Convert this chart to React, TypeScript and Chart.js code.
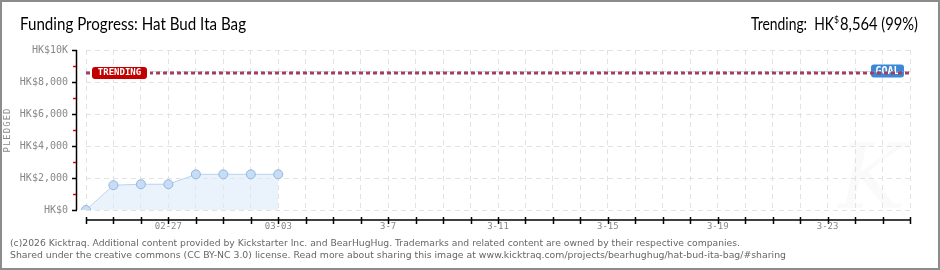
import React, { useEffect, useRef } from "react";
import { Chart, registerables } from "chart.js";
Chart.register(...registerables);

const categories = [
  "02-24", "02-25", "02-26", "02-27", "02-28",
  "03-01", "03-02", "03-03", "03-04", "03-05", "03-06", "03-07", "03-08", "03-09", "03-10",
  "03-11", "03-12", "03-13", "03-14", "03-15", "03-16", "03-17", "03-18", "03-19", "03-20",
  "03-21", "03-22", "03-23", "03-24", "03-25", "03-26",
];
const pledged = [0, 1550, 1610, 1610, 2230, 2230, 2230, 2230];
const xLabelDates = ["02-27", "03-03", "03-07", "03-11", "03-15", "03-19", "03-23"];
const xLabelTexts = ["02-27", "03-03", "3-7", "3-11", "3-15", "3-19", "3-23"];
const yTickValues = [0, 2000, 4000, 6000, 8000, 10000];
const yTickLabels = ["HK$0", "HK$2,000", "HK$4,000", "HK$6,000", "HK$8,000", "HK$10K"];
const yMinorValues = [1000, 3000, 5000, 7000, 9000];
const trendingValue = 8564;
const goalValue = 8650;
const titleText = "Funding Progress: Hat Bud Ita Bag";
const footer1 = "(c)2026 Kicktraq. Additional content provided by Kickstarter Inc. and BearHugHug. Trademarks and related content are owned by their respective companies.";
const footer2 = "Shared under the creative commons (CC BY-NC 3.0) license. Read more about sharing this image at www.kicktraq.com/projects/bearhughug/hat-bud-ita-bag/#sharing";

function fitText(ctx: CanvasRenderingContext2D, text: string, x: number, y: number, w: number) {
  const m = ctx.measureText(text).width;
  ctx.save();
  ctx.translate(x, y);
  ctx.scale(w / m, 1);
  ctx.textAlign = "left";
  ctx.fillText(text, 0, 0);
  ctx.restore();
}

const PIX = '"DejaVu Sans Mono", monospace';
const TITLEFONT = '400 17px Lato, "DejaVu Sans"';

const decor = {
  id: "decor",
  beforeDraw(chart: any) {
    const ctx: CanvasRenderingContext2D = chart.ctx;
    ctx.save();
    ctx.fillStyle = "#ffffff";
    ctx.fillRect(0, 0, chart.width, chart.height);
    ctx.fillStyle = "rgba(0,0,0,0.018)";
    ctx.font = 'italic 90px "DejaVu Serif"';
    ctx.textBaseline = "alphabetic";
    ctx.fillText("K", 838, 208);
    ctx.restore();
  },
  afterDatasetsDraw(chart: any) {
    const ctx: CanvasRenderingContext2D = chart.ctx;
    const xs = chart.scales.x;
    const ys = chart.scales.y;
    const area = chart.chartArea;
    ctx.save();
    ctx.strokeStyle = "#8c8c8c";
    ctx.lineWidth = 2;
    ctx.strokeRect(1, 1, chart.width - 2, chart.height - 2);

    // title
    ctx.fillStyle = "#000";
    ctx.textBaseline = "alphabetic";
    ctx.font = TITLEFONT;
    fitText(ctx, titleText, 20, 30, 226);

    // trending text
    const p1 = "Trending:  HK";
    const p3 = "8,564 (99%)";
    const w1 = 83, w3 = 78;
    const right = 918;
    ctx.font = TITLEFONT;
    fitText(ctx, p3, right - w3, 30, w3);
    ctx.font = '400 9px Lato, "DejaVu Sans"';
    fitText(ctx, "$", right - w3 - 6, 23, 5);
    ctx.font = TITLEFONT;
    fitText(ctx, p1, right - w3 - 6 - w1, 30, w1);

    // y axis
    ctx.strokeStyle = "#000";
    ctx.lineWidth = 1.5;
    ctx.beginPath();
    ctx.moveTo(76.5, ys.getPixelForValue(10000));
    ctx.lineTo(76.5, ys.getPixelForValue(0));
    ctx.stroke();
    yTickValues.forEach((v) => {
      const py = Math.round(ys.getPixelForValue(v)) + 0.5;
      ctx.beginPath();
      ctx.moveTo(72, py);
      ctx.lineTo(77, py);
      ctx.stroke();
    });
    ctx.strokeStyle = "#e00000";
    yMinorValues.forEach((v) => {
      const py = Math.round(ys.getPixelForValue(v)) + 0.5;
      ctx.beginPath();
      ctx.moveTo(73, py);
      ctx.lineTo(76, py);
      ctx.stroke();
    });
    ctx.fillStyle = "#888";
    ctx.font = "10px " + PIX;
    ctx.textAlign = "right";
    ctx.textBaseline = "middle";
    yTickValues.forEach((v, i) => {
      ctx.fillText(yTickLabels[i], 68, ys.getPixelForValue(v));
    });

    // PLEDGED
    ctx.save();
    ctx.translate(8, 130);
    ctx.rotate(-Math.PI / 2);
    ctx.textAlign = "center";
    ctx.textBaseline = "middle";
    ctx.font = "9px " + PIX;
    ctx.fillStyle = "#888";
    (ctx as any).letterSpacing = "1px";
    ctx.fillText("PLEDGED", 0, 0);
    ctx.restore();

    // x axis
    const axY = area.bottom + 10;
    ctx.strokeStyle = "#000";
    ctx.lineWidth = 1.5;
    ctx.beginPath();
    ctx.moveTo(xs.getPixelForValue(0), axY);
    ctx.lineTo(xs.getPixelForValue(categories.length - 1), axY);
    ctx.stroke();
    categories.forEach((_, i) => {
      const px = Math.round(xs.getPixelForValue(i)) + 0.5;
      ctx.beginPath();
      ctx.moveTo(px, axY - 3);
      ctx.lineTo(px, axY + 4);
      ctx.stroke();
    });
    ctx.fillStyle = "#888";
    ctx.font = "9px " + PIX;
    ctx.textAlign = "center";
    ctx.textBaseline = "middle";
    xLabelDates.forEach((d, i) => {
      const idx = categories.indexOf(d);
      ctx.fillText(xLabelTexts[i], xs.getPixelForValue(idx), axY + 7);
    });

    // goal badge
    const gy = ys.getPixelForValue(goalValue);
    const ty = ys.getPixelForValue(trendingValue);
    ctx.fillStyle = "#3b88d8";
    ctx.beginPath();
    (ctx as any).roundRect(871, gy - 7, 33, 13, 3);
    ctx.fill();
    ctx.fillStyle = "#ffffff";
    ctx.font = "bold 10px " + PIX;
    ctx.textAlign = "center";
    ctx.textBaseline = "middle";
    ctx.fillText("GOAL", 887.5, gy);

    // goal line and trending dashed line
    ctx.strokeStyle = "rgba(160,170,200,0.5)";
    ctx.lineWidth = 1;
    ctx.setLineDash([4, 2]);
    ctx.beginPath();
    ctx.moveTo(area.left, gy);
    ctx.lineTo(area.right, gy);
    ctx.stroke();
    ctx.strokeStyle = "#a33f5c";
    ctx.lineWidth = 3;
    ctx.setLineDash([4, 3]);
    ctx.beginPath();
    ctx.moveTo(area.left, ty);
    ctx.lineTo(area.right, ty);
    ctx.stroke();
    ctx.setLineDash([]);

    // trending badge
    ctx.fillStyle = "#ffffff";
    ctx.fillRect(90, ty - 7, 60, 14);
    ctx.fillStyle = "#c20000";
    ctx.beginPath();
    (ctx as any).roundRect(92, ty - 6, 55, 12, 3);
    ctx.fill();
    ctx.fillStyle = "#ffffff";
    ctx.font = "bold 9px " + PIX;
    ctx.fillText("TRENDING", 119.5, ty);

    // footer
    ctx.fillStyle = "#666";
    ctx.font = '9px "DejaVu Sans"';
    ctx.textBaseline = "middle";
    fitText(ctx, footer1, 10, 244, 730);
    fitText(ctx, footer2, 10, 256, 776);
    ctx.restore();
  },
};

export default function App() {
  const ref = useRef<HTMLCanvasElement>(null);
  useEffect(() => {
    document.body.style.margin = "0";
    const chart = new Chart(ref.current!, {
      type: "line",
      data: {
        labels: categories,
        datasets: [
          {
            data: pledged,
            borderColor: "#b9d3f0",
            borderWidth: 1,
            backgroundColor: "rgba(220,234,250,0.6)",
            fill: "origin",
            tension: 0,
            pointRadius: 4.5,
            pointBackgroundColor: "#c7ddf5",
            pointBorderColor: "#93b6e0",
            pointBorderWidth: 1,
          },
        ],
      },
      options: {
        animation: false,
        responsive: false,
        layout: { padding: { left: 86, right: 30, top: 50, bottom: 60 } },
        plugins: { legend: { display: false }, tooltip: { enabled: false }, title: { display: false } },
        scales: {
          x: {
            type: "category",
            offset: false,
            ticks: { display: false },
            grid: { color: "#e2e2e2", lineWidth: 1, drawTicks: false },
            border: { display: false, dash: [5, 4] },
            afterFit: (s: any) => { s.height = 0; },
          },
          y: {
            min: 0,
            max: 10000,
            ticks: { display: false, stepSize: 2000 },
            grid: { color: "#e2e2e2", lineWidth: 1, drawTicks: false },
            border: { display: false, dash: [5, 4] },
            afterFit: (s: any) => { s.width = 0; },
          },
        },
      },
      plugins: [decor],
    });
    return () => chart.destroy();
  }, []);
  return <canvas ref={ref} width={940} height={270} style={{ display: "block" }} />;
}
